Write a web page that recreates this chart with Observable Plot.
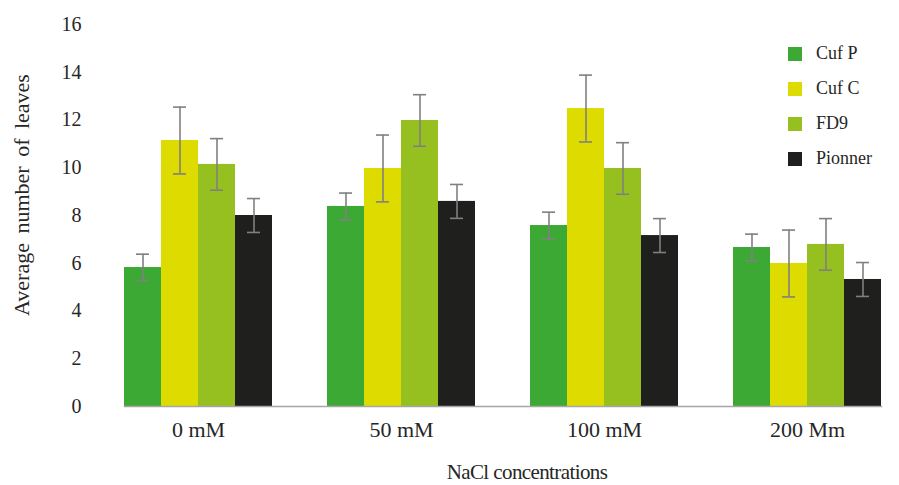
<!DOCTYPE html>
<html>
<head>
<meta charset="utf-8">
<script src="https://cdn.jsdelivr.net/npm/d3@7"></script>
<script src="https://cdn.jsdelivr.net/npm/@observablehq/plot@0.6"></script>
<style>
  html, body { margin: 0; padding: 0; background: #fff; }
  #wrap { position: relative; width: 899px; height: 485px; overflow: hidden; font-family: "Liberation Serif", serif; color: #262626; }
  #wrap svg text { font-family: "Liberation Serif", serif; }
  #ylabel { position: absolute; left: 22px; top: 195px; transform: translate(-50%, -50%) rotate(-90deg); white-space: nowrap; font-size: 22px; line-height: 1; word-spacing: 4px; }
  #xlabel { position: absolute; left: 527px; top: 472px; transform: translate(-50%, -50%); white-space: nowrap; font-size: 21px; line-height: 1; letter-spacing: -0.6px; }
  #legend { position: absolute; left: 788px; top: 36px; font-size: 18px; font-family: "Liberation Serif", serif; }
  .item { display: flex; align-items: center; height: 35px; font-family: "Liberation Serif", serif; }
  .sw { width: 14px; height: 14px; margin-right: 14px; }
</style>
</head>
<body>
<div id="wrap">
  <div id="chart"></div>
  <div id="ylabel">Average number of leaves</div>
  <div id="xlabel">NaCl concentrations</div>
  <div id="legend"></div>
</div>
<script>
const groups = ["0 mM", "50 mM", "100 mM", "200 Mm"];
const series = ["Cuf P", "Cuf C", "FD9", "Pionner"];
const cufP = [5.82, 8.38, 7.58, 6.66];
const cufC = [11.14, 9.97, 12.48, 5.99];
const fd9 = [10.14, 11.98, 9.97, 6.79];
const pionner = [8.0, 8.59, 7.16, 5.32];
const errors = [0.56, 1.4, 1.08, 0.71];
const yTicks = [0, 2, 4, 6, 8, 10, 12, 14, 16];
const colors = ["#3ca935", "#dedb00", "#95c020", "#1f1f1e"];

const valuesBySeries = [cufP, cufC, fd9, pionner];
const data = [];
groups.forEach((g, gi) => {
  series.forEach((s, si) => {
    const v = valuesBySeries[si][gi];
    data.push({group: g, series: s, value: v, lo: v - errors[si], hi: v + errors[si]});
  });
});

const chart = Plot.plot({
  width: 899,
  height: 485,
  marginLeft: 97,
  marginRight: 0,
  marginTop: 24,
  marginBottom: 79,
  style: {fontFamily: "Liberation Serif, serif", fontSize: "18px", color: "#262626", background: "#fff", overflow: "hidden"},
  fx: {domain: groups, range: [96.5, 908.5], paddingInner: 0.27, paddingOuter: 0.135, label: null},
  x: {domain: series, padding: 0, axis: null},
  y: {domain: [0, 16], label: null},
  color: {domain: series, range: colors},
  marks: [
    Plot.barY(data, {fx: "group", x: "series", y: "value", fill: "series"}),
    Plot.ruleX(data, {fx: "group", x: "series", y1: "lo", y2: "hi", stroke: "#808080", strokeWidth: 1.6}),
    Plot.tickY(data, {fx: "group", x: "series", y: "lo", stroke: "#808080", strokeWidth: 1.6, insetLeft: 12, insetRight: 12}),
    Plot.tickY(data, {fx: "group", x: "series", y: "hi", stroke: "#808080", strokeWidth: 1.6, insetLeft: 12, insetRight: 12}),
    Plot.axisY({ticks: yTicks, tickSize: 0, tickPadding: 43, label: null, fontSize: 20}),
    Plot.axisFx({anchor: "bottom", tickSize: 0, tickPadding: 15, label: null, fontSize: 22}),
    Plot.frame({anchor: "bottom", facet: "super", stroke: "#a6a6a6", strokeWidth: 1.5})
  ]
});
document.getElementById("chart").appendChild(chart);

const legend = document.getElementById("legend");
series.forEach((s, i) => {
  const item = document.createElement("div");
  item.className = "item";
  const sw = document.createElement("div");
  sw.className = "sw";
  sw.style.background = colors[i];
  const t = document.createElement("span");
  t.textContent = s;
  item.appendChild(sw);
  item.appendChild(t);
  legend.appendChild(item);
});
</script>
</body>
</html>
